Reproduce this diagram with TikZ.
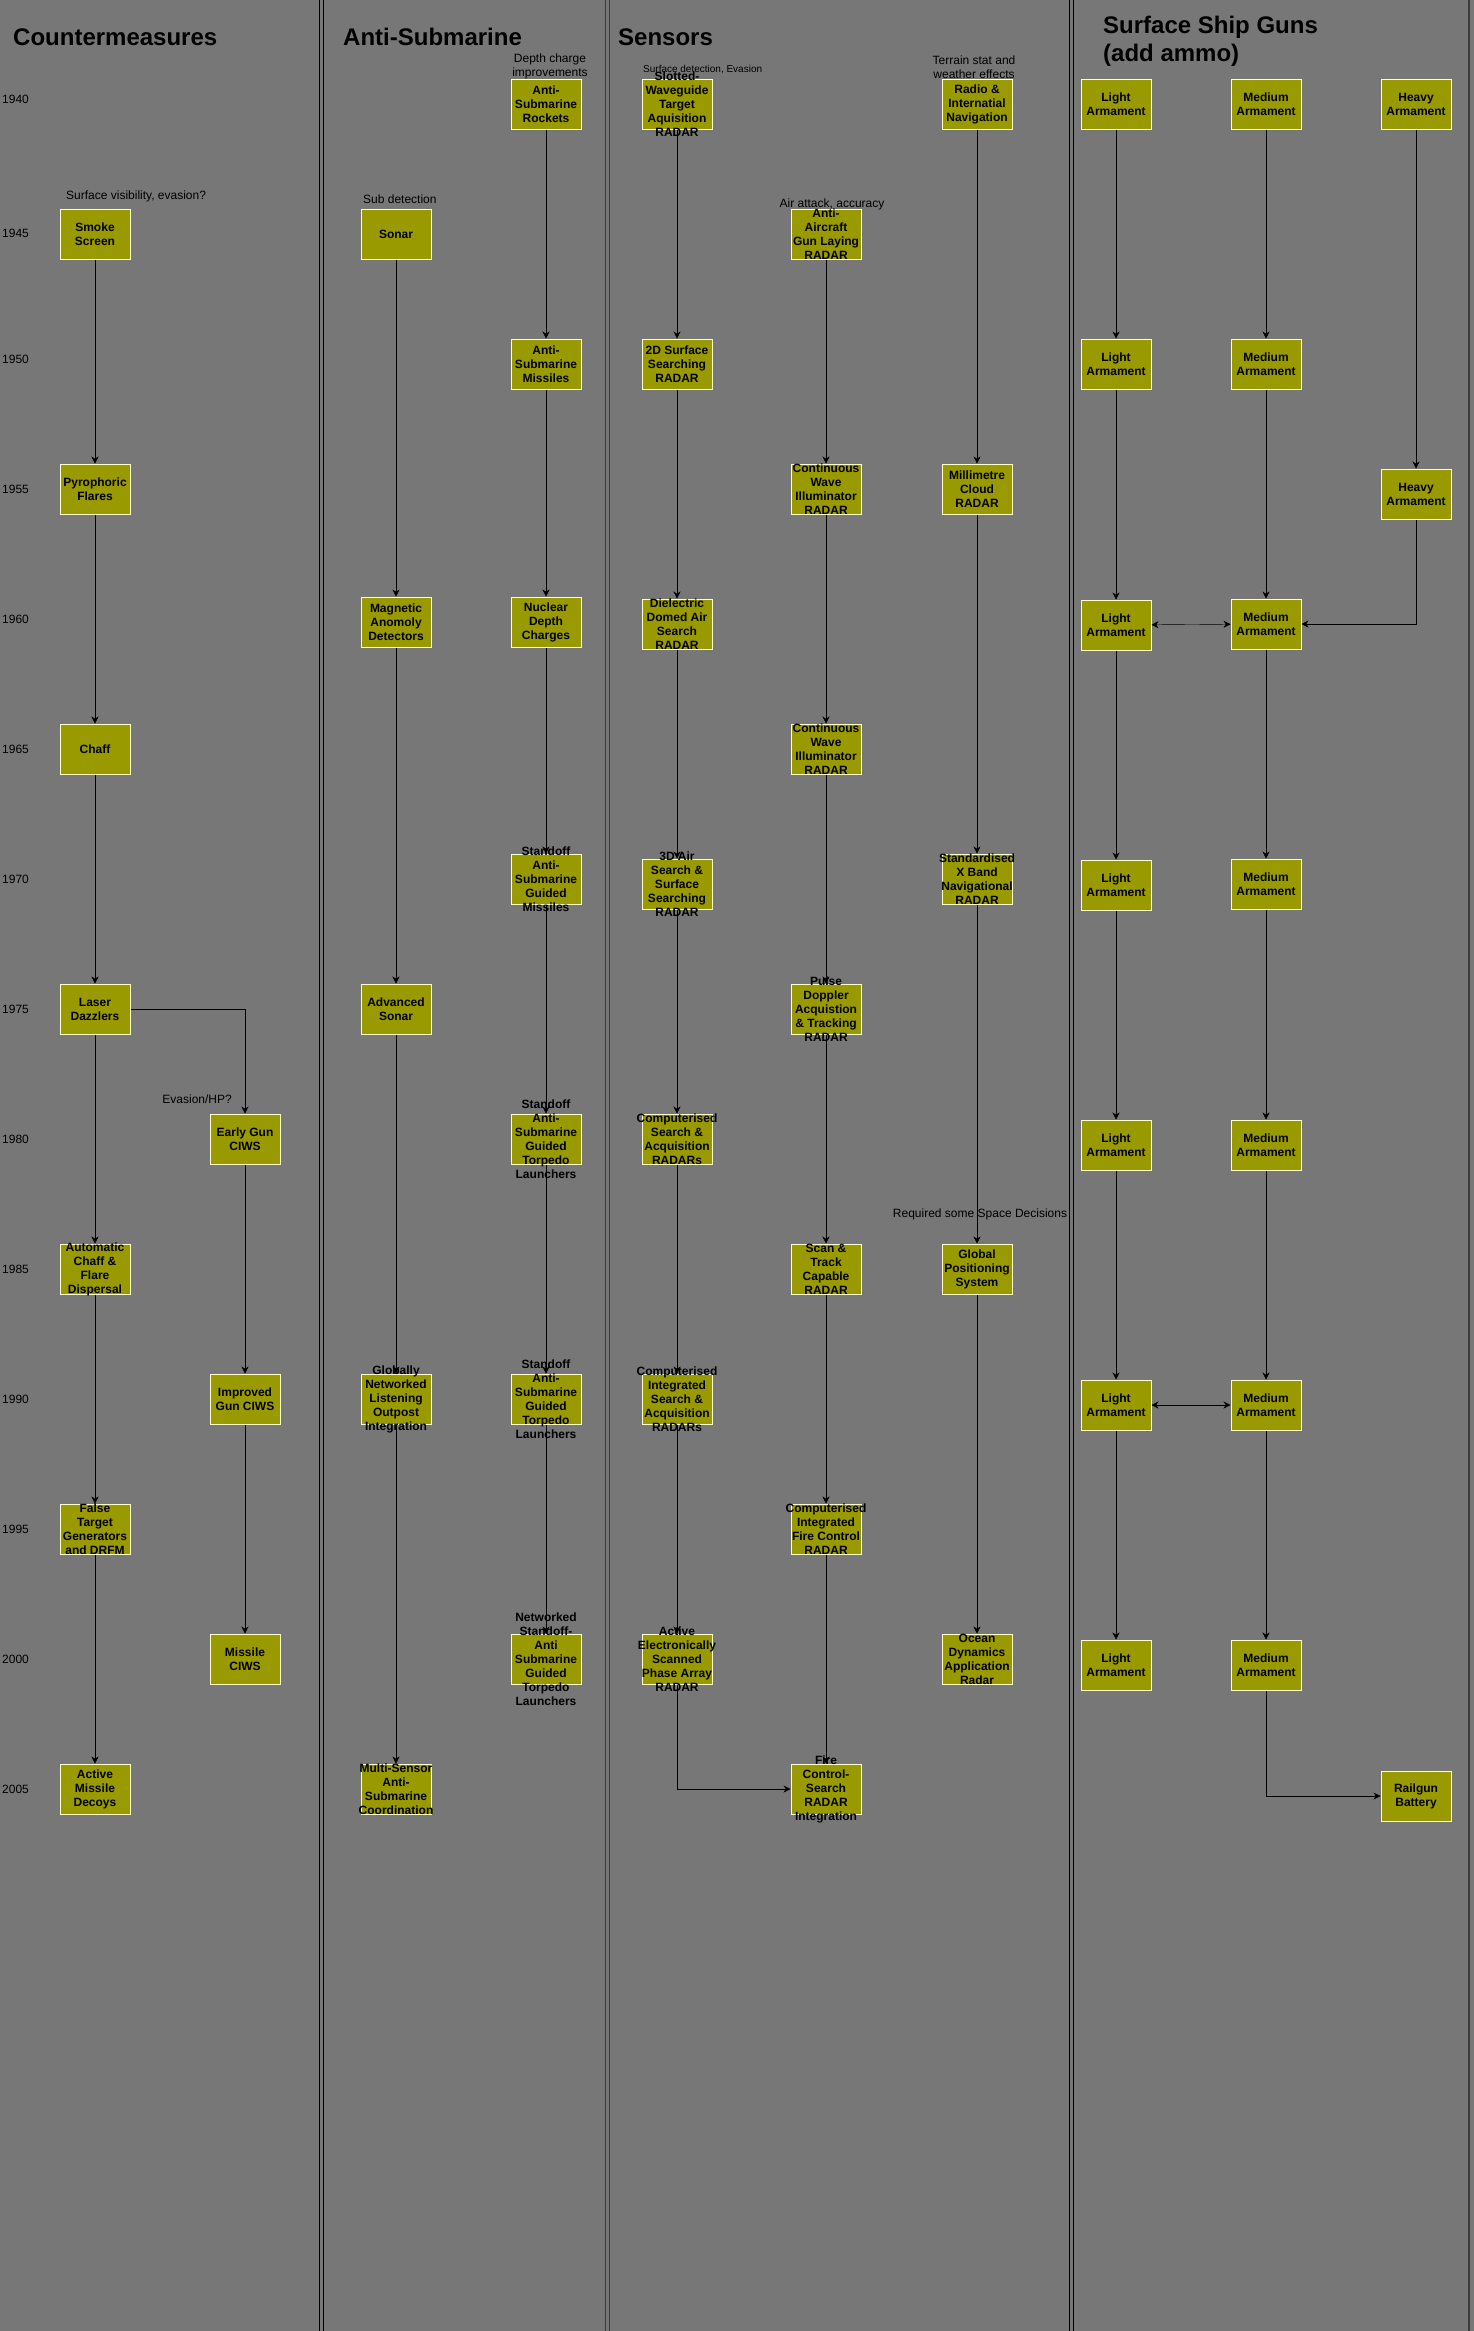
\documentclass[tikz,border=0pt]{standalone}
\usepackage{fontspec}
\setmainfont{Liberation Sans}
\usetikzlibrary{arrows.meta}

\definecolor{bgcol}{HTML}{777777}
\definecolor{boxfill}{HTML}{999900}
\definecolor{boxline}{HTML}{FFFFCC}
\definecolor{midlane}{HTML}{3C3C3C}

\begin{document}
\begin{tikzpicture}[x=1pt,y=-1pt,>={Stealth[length=7pt,width=7pt]},
  box/.style={draw=boxline,fill=boxfill,line width=1pt,minimum width=70pt,minimum height=50pt,inner sep=0pt},
  boxlbl/.style={align=center,inner sep=0pt,font=\fontsize{12}{14}\selectfont\bfseries},
  note/.style={align=center,inner sep=0pt,font=\fontsize{12}{14}\selectfont},
  yearlbl/.style={anchor=west,inner sep=0pt,font=\fontsize{12}{14}\selectfont},
  lanetitle/.style={anchor=west,align=left,inner sep=0pt,font=\fontsize{24}{28}\selectfont\bfseries},
  lanesep/.style={line width=1.5pt}]
\useasboundingbox (0,0) rectangle (1474,2331);
\fill[bgcol] (0,0) rectangle (1474,2331);

% lane borders
\draw[lanesep] (319.5,0) -- (319.5,2331);
\draw[lanesep] (323.5,0) -- (323.5,2331);
\draw[lanesep,midlane] (605.5,0) -- (605.5,2331);
\draw[lanesep,midlane] (609.5,0) -- (609.5,2331);
\draw[lanesep] (1069.5,0) -- (1069.5,2331);
\draw[lanesep] (1073.5,0) -- (1073.5,2331);
\draw[lanesep,midlane] (1469,0) -- (1469,2331);

% lane titles
\node[lanetitle] (t-cm) at (13,37) {Countermeasures};
\node[lanetitle] (t-as) at (343,37) {Anti-Submarine};
\node[lanetitle] (t-sen) at (618,37) {Sensors};
\node[lanetitle] (t-gun) at (1103,41) {Surface Ship Guns\\(add ammo)};

% years
\node[yearlbl] (y40) at (2,99) {1940};
\node[yearlbl] (y45) at (2,233) {1945};
\node[yearlbl] (y50) at (2,359) {1950};
\node[yearlbl] (y55) at (2,489) {1955};
\node[yearlbl] (y60) at (2,619) {1960};
\node[yearlbl] (y65) at (2,749) {1965};
\node[yearlbl] (y70) at (2,879) {1970};
\node[yearlbl] (y75) at (2,1009) {1975};
\node[yearlbl] (y80) at (2,1139) {1980};
\node[yearlbl] (y85) at (2,1269) {1985};
\node[yearlbl] (y90) at (2,1399) {1990};
\node[yearlbl] (y95) at (2,1529) {1995};
\node[yearlbl] (y00) at (2,1659) {2000};
\node[yearlbl] (y05) at (2,1789) {2005};

% countermeasures
\node[box,label={[boxlbl]center:Smoke\\Screen}] (smoke) at (95,234) {};
\node[box,label={[boxlbl]center:Pyrophoric\\Flares}] (pyro) at (95,489) {};
\node[box,label={[boxlbl]center:Chaff}] (chaff) at (95,749) {};
\node[box,label={[boxlbl]center:Laser\\Dazzlers}] (laser) at (95,1009) {};
\node[box,label={[boxlbl]center:Automatic\\Chaff \&\\Flare\\Dispersal}] (autochaff) at (95,1269) {};
\node[box,label={[boxlbl]center:False\\Target\\Generators\\and DRFM}] (falsetgt) at (95,1529) {};
\node[box,label={[boxlbl]center:Active\\Missile\\Decoys}] (decoys) at (95,1789) {};
\node[box,label={[boxlbl]center:Early Gun\\CIWS}] (ciws1) at (245,1139) {};
\node[box,label={[boxlbl]center:Improved\\Gun CIWS}] (ciws2) at (245,1399) {};
\node[box,label={[boxlbl]center:Missile\\CIWS}] (ciws3) at (245,1659) {};
\node[note,anchor=west] (n-smoke) at (66,196) {Surface visibility, evasion?};
\node[note,anchor=east] (n-ciws) at (232,1099) {Evasion/HP?};

\draw[->] (smoke) -- (pyro);
\draw[->] (pyro) -- (chaff);
\draw[->] (chaff) -- (laser);
\draw[->] (laser) -- (autochaff);
\draw[->] (autochaff) -- (falsetgt);
\draw[->] (falsetgt) -- (decoys);
\draw[->] (laser) -| (ciws1);
\draw[->] (ciws1) -- (ciws2);
\draw[->] (ciws2) -- (ciws3);

% anti-submarine
\node[box,label={[boxlbl]center:Sonar}] (sonar) at (396,234) {};
\node[box,label={[boxlbl]center:Magnetic\\Anomoly\\Detectors}] (mad) at (396,622) {};
\node[box,label={[boxlbl]center:Advanced\\Sonar}] (advsonar) at (396,1009) {};
\node[box,label={[boxlbl]center:Globally\\Networked\\Listening\\Outpost\\Integration}] (globnet) at (396,1399) {};
\node[box,label={[boxlbl]center:Multi-Sensor\\Anti-\\Submarine\\Coordination}] (multisens) at (396,1789) {};
\node[box,label={[boxlbl]center:Anti-\\Submarine\\Rockets}] (asrocket) at (546,104) {};
\node[box,label={[boxlbl]center:Anti-\\Submarine\\Missiles}] (asmissile) at (546,364) {};
\node[box,label={[boxlbl]center:Nuclear\\Depth\\Charges}] (nuclear) at (546,622) {};
\node[box,label={[boxlbl]center:Standoff\\Anti-\\Submarine\\Guided\\Missiles}] (standoff1) at (546,879) {};
\node[box,label={[boxlbl]center:Standoff\\Anti-\\Submarine\\Guided\\Torpedo\\Launchers}] (standoff2) at (546,1139) {};
\node[box,label={[boxlbl]center:Standoff\\Anti-\\Submarine\\Guided\\Torpedo\\Launchers}] (standoff3) at (546,1399) {};
\node[box,label={[boxlbl]center:Networked\\Standoff-\\Anti\\Submarine\\Guided\\Torpedo\\Launchers}] (netstandoff) at (546,1659) {};
\node[note,anchor=west] (n-sonar) at (363,199) {Sub detection};
\node[note] (n-asrocket) at (550,66) {Depth charge\\improvements};

\draw[->] (sonar) -- (mad);
\draw[->] (mad) -- (advsonar);
\draw[->] (advsonar) -- (globnet);
\draw[->] (globnet) -- (multisens);
\draw[->] (asrocket) -- (asmissile);
\draw[->] (asmissile) -- (nuclear);
\draw[->] (nuclear) -- (standoff1);
\draw[->] (standoff1) -- (standoff2);
\draw[->] (standoff2) -- (standoff3);
\draw[->] (standoff3) -- (netstandoff);

% sensors
\node[box,label={[boxlbl]center:Slotted-\\Waveguide\\Target\\Aquisition\\RADAR}] (slotted) at (677,104) {};
\node[box,label={[boxlbl]center:2D Surface\\Searching\\RADAR}] (surf2d) at (677,364) {};
\node[box,label={[boxlbl]center:Dielectric\\Domed Air\\Search\\RADAR}] (dielectric) at (677,624) {};
\node[box,label={[boxlbl]center:3D Air\\Search \&\\Surface\\Searching\\RADAR}] (air3d) at (677,884) {};
\node[box,label={[boxlbl]center:Computerised\\Search \&\\Acquisition\\RADARs}] (compsearch) at (677,1139) {};
\node[box,label={[boxlbl]center:Computerised\\Integrated\\Search \&\\Acquisition\\RADARs}] (compint) at (677,1399) {};
\node[box,label={[boxlbl]center:Active\\Electronically\\Scanned\\Phase Array\\RADAR}] (aesa) at (677,1659) {};
\node[box,label={[boxlbl]center:Anti-\\Aircraft\\Gun Laying\\RADAR}] (aagun) at (826,234) {};
\node[box,label={[boxlbl]center:Continuous\\Wave\\Illuminator\\RADAR}] (cwave1) at (826,489) {};
\node[box,label={[boxlbl]center:Continuous\\Wave\\Illuminator\\RADAR}] (cwave2) at (826,749) {};
\node[box,label={[boxlbl]center:Pulse\\Doppler\\Acquistion\\\& Tracking\\RADAR}] (pulsedop) at (826,1009) {};
\node[box,label={[boxlbl]center:Scan \&\\Track\\Capable\\RADAR}] (scantrack) at (826,1269) {};
\node[box,label={[boxlbl]center:Computerised\\Integrated\\Fire Control\\RADAR}] (compfire) at (826,1529) {};
\node[box,label={[boxlbl]center:Fire\\Control-\\Search\\RADAR\\Integration}] (fcsearch) at (826,1789) {};
\node[box,label={[boxlbl]center:Radio \&\\Internatial\\Navigation}] (radio) at (977,104) {};
\node[box,label={[boxlbl]center:Millimetre\\Cloud\\RADAR}] (mmcloud) at (977,489) {};
\node[box,label={[boxlbl]center:Standardised\\X Band\\Navigational\\RADAR}] (xband) at (977,879) {};
\node[box,label={[boxlbl]center:Global\\Positioning\\System}] (gps) at (977,1269) {};
\node[box,label={[boxlbl]center:Ocean\\Dynamics\\Application\\Radar}] (ocean) at (977,1659) {};
\node[note,anchor=west,font=\fontsize{10}{12}\selectfont] (n-slotted) at (643,70) {Surface detection, Evasion};
\node[note] (n-aagun) at (832,204) {Air attack, accuracy};
\node[note] (n-radio) at (974,67) {Terrain stat and\\weather effects};
\node[note] (n-gps) at (980,1214) {Required some Space Decisions};

\draw[->] (slotted) -- (surf2d);
\draw[->] (surf2d) -- (dielectric);
\draw[->] (dielectric) -- (air3d);
\draw[->] (air3d) -- (compsearch);
\draw[->] (compsearch) -- (compint);
\draw[->] (compint) -- (aesa);
\draw[->] (aesa) |- (fcsearch);
\draw[->] (aagun) -- (cwave1);
\draw[->] (cwave1) -- (cwave2);
\draw[->] (cwave2) -- (pulsedop);
\draw[->] (pulsedop) -- (scantrack);
\draw[->] (scantrack) -- (compfire);
\draw[->] (compfire) -- (fcsearch);
\draw[->] (radio) -- (mmcloud);
\draw[->] (mmcloud) -- (xband);
\draw[->] (xband) -- (gps);
\draw[->] (gps) -- (ocean);

% surface ship guns
\node[box,label={[boxlbl]center:Light\\Armament}] (light1) at (1116,104) {};
\node[box,label={[boxlbl]center:Light\\Armament}] (light2) at (1116,364) {};
\node[box,label={[boxlbl]center:Light\\Armament}] (light3) at (1116,625) {};
\node[box,label={[boxlbl]center:Light\\Armament}] (light4) at (1116,885) {};
\node[box,label={[boxlbl]center:Light\\Armament}] (light5) at (1116,1145) {};
\node[box,label={[boxlbl]center:Light\\Armament}] (light6) at (1116,1405) {};
\node[box,label={[boxlbl]center:Light\\Armament}] (light7) at (1116,1665) {};
\node[box,label={[boxlbl]center:Medium\\Armament}] (medium1) at (1266,104) {};
\node[box,label={[boxlbl]center:Medium\\Armament}] (medium2) at (1266,364) {};
\node[box,label={[boxlbl]center:Medium\\Armament}] (medium3) at (1266,624) {};
\node[box,label={[boxlbl]center:Medium\\Armament}] (medium4) at (1266,884) {};
\node[box,label={[boxlbl]center:Medium\\Armament}] (medium5) at (1266,1145) {};
\node[box,label={[boxlbl]center:Medium\\Armament}] (medium6) at (1266,1405) {};
\node[box,label={[boxlbl]center:Medium\\Armament}] (medium7) at (1266,1665) {};
\node[box,label={[boxlbl]center:Heavy\\Armament}] (heavy1) at (1416,104) {};
\node[box,label={[boxlbl]center:Heavy\\Armament}] (heavy2) at (1416,494) {};
\node[box,label={[boxlbl]center:Railgun\\Battery}] (railgun) at (1416,1796) {};

\draw[->] (light1) -- (light2);
\draw[->] (light2) -- (light3);
\draw[->] (light3) -- (light4);
\draw[->] (light4) -- (light5);
\draw[->] (light5) -- (light6);
\draw[->] (light6) -- (light7);
\draw[->] (medium1) -- (medium2);
\draw[->] (medium2) -- (medium3);
\draw[->] (medium3) -- (medium4);
\draw[->] (medium4) -- (medium5);
\draw[->] (medium5) -- (medium6);
\draw[->] (medium6) -- (medium7);
\draw[->] (heavy1) -- (heavy2);
\draw[->] (heavy2) |- (medium3);
\draw[<->] (light3) -- (medium3);
\draw[<->] (light6) -- (medium6);
\draw[->] (medium7) |- (railgun);
\end{tikzpicture}
\end{document}
